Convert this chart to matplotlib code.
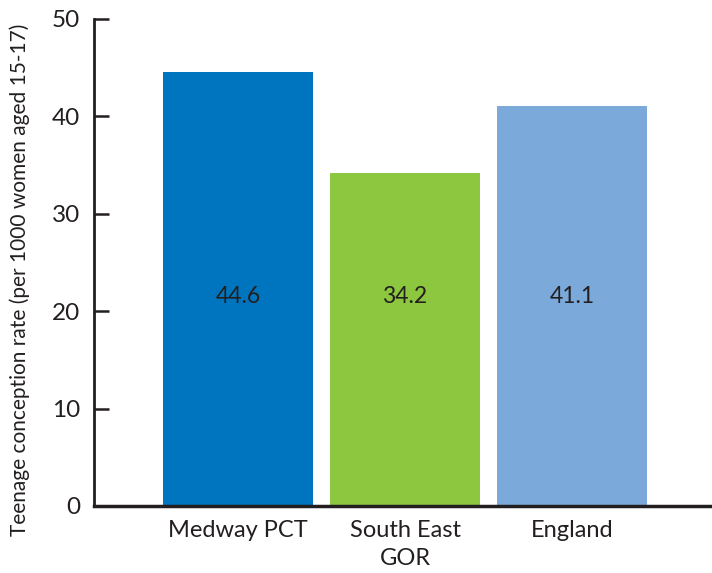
import matplotlib.pyplot as plt

areas = ['Medway PCT', 'South East\nGOR', 'England']
rates = [44.6, 34.2, 41.1]
colors = ['#0075BF', '#8DC63F', '#7BAADA']
yticks = [0, 10, 20, 30, 40, 50]

plt.rcParams['font.family'] = ['Lato', 'DejaVu Sans']

fig = plt.figure(figsize=(7.12, 5.73), dpi=100)
ax = fig.add_axes([0.132, 0.117, 0.868, 0.850])

x = range(len(areas))
ax.bar(x, rates, width=0.9, color=colors, zorder=2)
for i, r in zip(x, rates):
    ax.text(i, 21.5, '%.1f' % r, ha='center', va='center', fontsize=16.5, color='#231F20')

ax.set_xlim(-0.865, 2.84)
ax.set_ylim(0, 50)
ax.set_yticks(yticks)
ax.set_xticks(list(x))
ax.set_xticklabels(areas, fontsize=17, color='#231F20', linespacing=1.45)
ax.tick_params(axis='y', direction='in', length=11, width=1.8, labelsize=17.5, pad=10, colors='#231F20')
ax.tick_params(axis='x', length=0, pad=10)
ax.set_ylabel('Teenage conception rate (per 1000 women aged 15-17)', fontsize=15, color='#231F20')
ax.yaxis.set_label_coords(-0.103, 0.464)

for side in ['top', 'right']:
    ax.spines[side].set_visible(False)
ax.spines['left'].set_linewidth(2)
ax.spines['bottom'].set_linewidth(2.5)
ax.spines['left'].set_color('#231F20')
ax.spines['bottom'].set_color('#231F20')

fig.savefig('out.png', dpi=100)
